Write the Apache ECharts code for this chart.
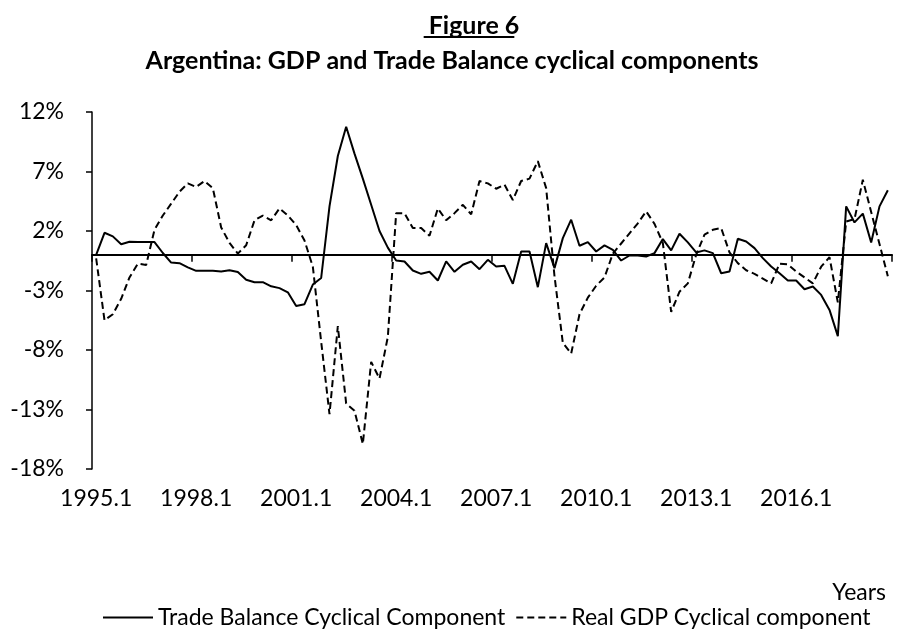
<!DOCTYPE html>
<html>
<head>
<meta charset="utf-8">
<script src="https://cdn.jsdelivr.net/npm/echarts@6/dist/echarts.min.js"></script>
<style>
  html, body { margin: 0; padding: 0; background: #fff; }
  #chart { width: 907px; height: 629px; }
</style>
</head>
<body>
<div id="chart"></div>
<script>
// ---- data ----
const firstYear = 1995;
const lastYear = 2018;
const categories = [];
for (let y = firstYear; y <= lastYear; y++) {
  for (let q = 1; q <= 4; q++) categories.push(y + '.' + q);
}

const yTicks = [-18, -13, -8, -3, 2, 7, 12];

const tradeBalance = [
  0.0, 1.85, 1.55, 0.88, 1.1, 1.07, 1.07, 1.07, 0.15, -0.65,
  -0.7, -1.05, -1.35, -1.35, -1.35, -1.4, -1.3, -1.45, -2.1, -2.3,
  -2.3, -2.65, -2.8, -3.15, -4.3, -4.15, -2.5, -1.95, 4.07, 8.3,
  10.76, 8.5, 6.4, 4.2, 2.0, 0.6, -0.48, -0.56, -1.32, -1.6,
  -1.43, -2.16, -0.56, -1.43, -0.84, -0.56, -1.21, -0.42, -0.98, -0.93,
  -2.44, 0.28, 0.28, -2.72, 0.98, -1.12, 1.4, 2.95, 0.76, 1.07,
  0.28, 0.79, 0.42, -0.48, -0.06, -0.06, -0.14, 0.14, 1.32, 0.37,
  1.77, 1.04, 0.2, 0.37, 0.14, -1.55, -1.4, 1.35, 1.12, 0.56,
  -0.28, -0.98, -1.55, -2.16, -2.16, -2.89, -2.67, -3.37, -4.63, -6.83,
  4.07, 2.72, 3.46, 1.04, 4.07, 5.42
];

const realGDP = [
  -0.3, -5.5, -5.0, -3.7, -1.9, -0.75, -0.85, 2.1, 3.3, 4.3,
  5.3, 6.0, 5.7, 6.2, 5.6, 2.3, 1.0, 0.1, 0.8, 2.9,
  3.3, 2.9, 3.9, 3.3, 2.5, 1.2, -1.0, -7.3, -13.4, -6.0,
  -12.5, -13.1, -15.9, -9.0, -10.4, -6.9, 3.5, 3.5, 2.25, 2.25,
  1.6, 3.9, 2.9, 3.5, 4.2, 3.4, 6.2, 6.0, 5.55, 5.9,
  4.6, 6.2, 6.4, 7.87, 5.6, -1.8, -7.4, -8.3, -5.0, -3.6,
  -2.6, -1.9, 0.1, 0.95, 1.8, 2.65, 3.65, 2.6, 1.0, -4.8,
  -3.1, -2.4, 0.0, 1.7, 2.1, 2.25, 0.2, -0.7, -1.3, -1.6,
  -2.0, -2.4, -0.75, -0.8, -1.4, -1.9, -2.4, -1.0, -0.2, -4.0,
  2.8, 3.0, 6.3, 3.6, 0.9, -1.8
];

const seriesNames = ['Trade Balance Cyclical Component', 'Real GDP Cyclical component'];
const titleText = 'Figure 6';
const subtitleText = 'Argentina: GDP and Trade Balance cyclical components';
const xAxisName = 'Years';

// ---- chart ----
const FONT = 'Lato, "Open Sans", sans-serif';
const chart = echarts.init(document.getElementById('chart'), null, { renderer: 'canvas' });

function textWidth(str, font) {
  const c = document.createElement('canvas').getContext('2d');
  c.font = font;
  return c.measureText(str).width;
}
const titleFont = 'bold 25px ' + FONT;
const tw = textWidth(titleText, titleFont);

const option = {
  animation: false,
  backgroundColor: '#ffffff',
  title: [
    {
      text: titleText,
      left: 469, top: 8, textAlign: 'center',
      textStyle: { fontFamily: FONT, fontWeight: 'bold', fontSize: 25, color: '#000' }
    },
    {
      text: subtitleText,
      left: 447, top: 43, textAlign: 'center',
      textStyle: { fontFamily: FONT, fontWeight: 'bold', fontSize: 25, color: '#000' }
    }
  ],
  graphic: [
    {
      type: 'text',
      right: 21, top: 581,
      style: { text: xAxisName, font: '23px ' + FONT, fill: '#000' }
    },
    {
      type: 'line',
      shape: { x1: 469 - tw / 2, y1: 37, x2: 469 + tw / 2, y2: 37 },
      style: { stroke: '#000', lineWidth: 2 }
    }
  ],
  legend: {
    top: 601,
    left: 97,
    itemWidth: 50,
    itemHeight: 14,
    itemGap: 10,
    itemStyle: { opacity: 0 },
    textStyle: { fontFamily: FONT, fontSize: 23, color: '#000' },
    data: seriesNames
  },
  grid: { left: 92, right: 15, top: 112, bottom: 160, containLabel: false },
  xAxis: [
    {
      type: 'category',
      data: categories,
      boundaryGap: true,
      axisLine: { show: true, onZero: true, lineStyle: { color: '#000', width: 2 } },
      axisTick: { show: true, interval: 11, length: 7, lineStyle: { color: '#000', width: 1.5 } },
      axisLabel: { show: false },
      splitLine: { show: false }
    },
    {
      type: 'category',
      data: categories,
      position: 'bottom',
      boundaryGap: true,
      axisLine: { show: false, onZero: false },
      axisTick: { show: false },
      axisLabel: {
        show: true, interval: 11, margin: 18,
        fontFamily: FONT, fontSize: 23, color: '#000'
      },
      splitLine: { show: false }
    }
  ],
  yAxis: {
    type: 'value',
    min: -18, max: 12,
    axisLine: { show: true, lineStyle: { color: '#000', width: 1.5 } },
    axisTick: { show: true, length: 6, customValues: yTicks, lineStyle: { color: '#000', width: 1.5 } },
    axisLabel: {
      customValues: yTicks, margin: 28,
      formatter: v => v + '%',
      fontFamily: FONT, fontSize: 23, color: '#000'
    },
    splitLine: { show: false }
  },
  series: [
    {
      name: seriesNames[0],
      type: 'line',
      data: tradeBalance,
      xAxisIndex: 0,
      symbol: 'none',
      lineStyle: { color: '#000', width: 2, type: 'solid' },
      itemStyle: { color: '#000' }
    },
    {
      name: seriesNames[1],
      type: 'line',
      data: realGDP,
      xAxisIndex: 0,
      symbol: 'none',
      lineStyle: { color: '#000', width: 2, type: [7, 4] },
      itemStyle: { color: '#000' }
    }
  ]
};
chart.setOption(option);
</script>
</body>
</html>
